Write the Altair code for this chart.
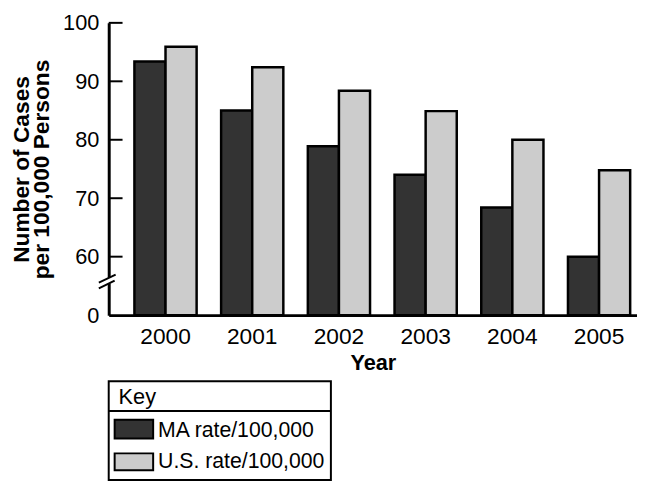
import altair as alt
import pandas as pd

# ---- data ----
years = ["2000", "2001", "2002", "2003", "2004", "2005"]
series = ["MA rate/100,000", "U.S. rate/100,000"]
ma_rate = [93.4, 85.0, 78.9, 74.0, 68.4, 60.0]
us_rate = [95.9, 92.4, 88.4, 84.9, 80.0, 74.8]
y_ticks = [60, 70, 80, 90, 100]
axis_floor = 50          # broken axis: this value is shown as "0"
colors = ["#333333", "#cccccc"]

rows = []
for i, yr in enumerate(years):
    rows.append({"year": yr, "series": series[0], "value": ma_rate[i]})
    rows.append({"year": yr, "series": series[1], "value": us_rate[i]})
df = pd.DataFrame(rows)
df["base"] = axis_floor

FONT = "Liberation Sans"
W, H = 535, 296

color_scale = alt.Scale(domain=series, range=colors)
y_scale = alt.Scale(domain=[axis_floor, 100], nice=False, zero=False)

y_axis = alt.Axis(
    values=[axis_floor] + y_ticks,
    labelExpr="datum.value == 50 ? '0' : datum.label",
    ticks=False, grid=False, domainWidth=3, domainColor="black",
    labelFontSize=22, labelFont=FONT, labelColor="black",
    labelPadding=10, zindex=0,
    title=["Number of Cases", "per 100,000 Persons"],
    titleFont=FONT, titleFontSize=23, titleFontWeight="bold",
    titleColor="black", titlePadding=9, titleLineHeight=21,
)

bars = alt.Chart(df).mark_bar(stroke="black", strokeWidth=2.5).encode(
    x=alt.X(
        "year:N",
        sort=years,
        scale=alt.Scale(paddingInner=0.2825, paddingOuter=0.1875, align=0.79),
        axis=alt.Axis(
            title="Year", labelAngle=0, ticks=False, domainWidth=3,
            domainColor="black", labelFontSize=23, titleFontSize=22,
            titleFontWeight="bold", labelPadding=11, titlePadding=4,
            labelColor="black", titleColor="black", labelFont=FONT,
            titleFont=FONT,
        ),
    ),
    xOffset=alt.XOffset("series:N", sort=series,
                        scale=alt.Scale(paddingInner=0, paddingOuter=0)),
    y=alt.Y("value:Q", scale=y_scale, axis=y_axis),
    y2="base:Q",
    color=alt.Color("series:N", scale=color_scale, legend=None),
)

# inward tick marks on the y axis
tick_df = pd.DataFrame({"v": y_ticks})
ticks = alt.Chart(tick_df).mark_rule(color="black", strokeWidth=2).encode(
    y=alt.Y("v:Q", scale=y_scale, axis=y_axis),
    x=alt.value(0), x2=alt.value(14),
)

one = pd.DataFrame({"a": [0]})
gap = alt.Chart(one).mark_rule(color="white", strokeWidth=6).encode(
    x=alt.value(0), y=alt.value(258), y2=alt.value(264))
slash1 = alt.Chart(one).mark_rule(color="black", strokeWidth=2).encode(
    x=alt.value(-10), x2=alt.value(7), y=alt.value(263), y2=alt.value(255))
slash2 = alt.Chart(one).mark_rule(color="black", strokeWidth=2).encode(
    x=alt.value(-10), x2=alt.value(6), y=alt.value(269), y2=alt.value(261))

# key box
box = alt.Chart(one).mark_rect(fill="white", stroke="black", strokeWidth=2).encode(
    x=alt.value(0), x2=alt.value(225), y=alt.value(363), y2=alt.value(463))
sep = alt.Chart(one).mark_rule(color="black", strokeWidth=2).encode(
    x=alt.value(0), x2=alt.value(225), y=alt.value(393))
key_title = alt.Chart(one).mark_text(
    align="left", baseline="middle", fontSize=22, font=FONT, color="black"
).encode(x=alt.value(10), y=alt.value(379), text=alt.value("Key"))

leg_df = pd.DataFrame({"series": series})
entry_layers = []
swatch_y = [(402, 421), (436, 453)]
text_y = [413, 445]
for i, s in enumerate(series):
    base = alt.Chart(leg_df).transform_filter(alt.datum.series == s)
    sw = base.mark_rect(stroke="black", strokeWidth=2).encode(
        color=alt.Color("series:N", scale=color_scale, legend=None),
        x=alt.value(6), x2=alt.value(45),
        y=alt.value(swatch_y[i][0]), y2=alt.value(swatch_y[i][1]),
    )
    tx = base.mark_text(align="left", baseline="middle", fontSize=21.5,
                        font=FONT, color="black").encode(
        x=alt.value(50), y=alt.value(text_y[i]), text="series:N")
    entry_layers += [sw, tx]

chart = alt.layer(
    bars, ticks, gap, slash1, slash2, box, sep, key_title, *entry_layers
).properties(
    width=W, height=H,
    autosize=alt.AutoSizeParams(type="none"),
    padding={"left": 102, "top": 12, "right": 0, "bottom": 170},
).configure_view(stroke=None)

chart.save("out.html", embed_options={"renderer": "svg", "actions": False})
